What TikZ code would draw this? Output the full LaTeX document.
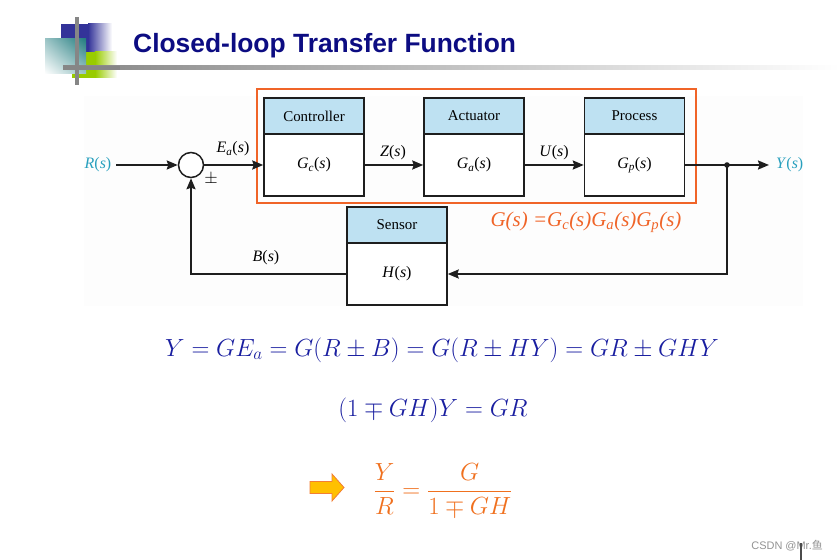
\documentclass[tikz,border=0pt]{standalone}
\usepackage{fontspec}
\setmainfont{Liberation Serif}
\newfontfamily\arialf{Liberation Sans}
\newfontfamily\cjkf{Noto Sans CJK SC}
\usepackage{amsmath}
\usetikzlibrary{arrows.meta,shadings}
\definecolor{titlec}{RGB}{12,12,130}
\definecolor{hdrc}{RGB}{190,225,242}
\definecolor{linec}{RGB}{30,30,30}
\definecolor{tealc}{RGB}{40,160,190}
\definecolor{orangec}{RGB}{240,100,40}
\definecolor{eqc}{RGB}{25,30,160}
\definecolor{fracc}{RGB}{240,112,30}
\definecolor{goldc}{RGB}{255,192,0}
\definecolor{sqblue}{RGB}{51,51,153}
\definecolor{sqteal}{RGB}{35,125,128}
\definecolor{sqgreen}{RGB}{153,204,0}
\newcommand\tfn[1]{{\itshape G\textsubscript{#1}}(\textit{s})}
\begin{document}
\begin{tikzpicture}[x=1bp,y=-1bp,
  hdrbox/.style={draw=linec, fill=hdrc, line width=1.5bp, minimum width=100bp, minimum height=36bp, inner sep=0pt, font=\fontsize{15}{18}\selectfont},
  bodybox/.style={draw=linec, fill=white, line width=1.5bp, minimum width=100bp, minimum height=62bp, inner sep=0pt, font=\fontsize{16}{18}\selectfont},
  sig/.style={font=\fontsize{16}{18}\selectfont, inner sep=1pt},
  arr/.style={draw=linec, line width=2bp, -{Stealth[length=11bp,width=9bp,inset=1.5bp]}},
  eq/.style={text=eqc, font=\fontsize{25}{30}\selectfont, inner sep=0pt}
]
\useasboundingbox (0,0) rectangle (840,560);
\fill[white] (0,0) rectangle (840,560);
\fill[gray!1.5] (84,96) rectangle (803,306);

% title decoration
\fill[sqblue] (61,24) rectangle (88,52);
\shade[left color=sqblue, right color=white] (88,24) rectangle (112,52);
\fill[sqgreen] (72,52) rectangle (95,78);
\shade[left color=sqgreen, right color=white] (95,52) rectangle (117,78);
\shade[upper right=sqteal, upper left=sqteal!45!white, lower right=sqteal!45!white, lower left=white] (45,39) rectangle (86,74);
\shade[left color=gray!95, right color=white] (63,65.7) rectangle (840,70);
\fill[gray!95] (63,65.7) rectangle (120,70);
\fill[gray!95] (75,17) rectangle (79,85);
\node[anchor=base west, text=titlec, font=\arialf\bfseries\fontsize{26.5}{30}\selectfont, inner sep=0pt] (title) at (133,53) {Closed-loop Transfer Function};

% orange frame
\draw[orangec, line width=1.6bp] (257,89) rectangle (696,203);

% blocks
\node[hdrbox] (ctrlh) at (314,116) {Controller};
\node[bodybox] (ctrl) at (314,165) {\tfn{c}};
\node[hdrbox] (acth) at (474,116) {Actuator};
\node[bodybox] (act) at (474,165) {\tfn{a}};
\node[hdrbox] (proch) at (634.5,116) {Process};
\node[bodybox] (proc) at (634.5,165) {\tfn{p}};
\node[hdrbox] (sensh) at (397,225) {Sensor};
\node[bodybox] (sens) at (397,274) {\textit{H}(\textit{s})};

% summing junction
\node[draw=linec, line width=1.5bp, fill=white, circle, minimum size=25bp, inner sep=0pt] (sum) at (191,165) {};

% signal labels
\node[sig, text=tealc] (Rlab) at (98,165) {\textit{R}(\textit{s})};
\node[sig, text=tealc, anchor=west] (Ylab) at (775,165) {\textit{Y}(\textit{s})};
\node[sig] (Ealab) at (233,149) {{\itshape E\textsubscript{a}}(\textit{s})};
\node[sig] (Zlab) at (393,153) {\textit{Z}(\textit{s})};
\node[sig] (Ulab) at (554,153) {\textit{U}(\textit{s})};
\node[sig] (Blab) at (266,258) {\textit{B}(\textit{s})};
\node[sig] (pm) at (211,179) {$\pm$};

% connectors
\draw[arr] ([xshift=4bp]Rlab.east) -- (sum.west);
\draw[arr] (sum.east) -- (ctrl.west);
\draw[arr] (ctrl.east) -- (act.west);
\draw[arr] (act.east) -- (proc.west);
\draw[arr] (proc.east) -- ([xshift=-6bp]Ylab.west);
\coordinate (tap) at (727,165);
\fill[linec] (tap) circle (2.8bp);
\draw[arr] (tap) |- (sens.east);
\draw[arr] (sens.west) -| (sum.south);

% G(s) formula
\node[text=orangec, font=\fontsize{21}{24}\selectfont\itshape, inner sep=0pt] (Gform) at (586,222)
  {G(s) =G\textsubscript{c}(s)G\textsubscript{a}(s)G\textsubscript{p}(s)};

% equations
\node[eq] (eq1) at (442,350) {$Y = GE_a = G(R \pm B) = G(R \pm HY) = GR \pm GHY$};
\node[eq] (eq2) at (433,410) {$(1 \mp GH)Y = GR$};
\node[eq, text=fracc, font=\fontsize{26}{30}\selectfont] (eq3) at (443,490) {$\dfrac{Y}{R} = \dfrac{G}{1 \mp GH}$};

% block arrow
\draw[fill=goldc, draw=fracc!90, line width=0.8bp] (310,481.5) -- (332,481.5) -- (332,474) -- (344,487.5) -- (332,501) -- (332,493.5) -- (310,493.5) -- cycle;

% watermark
\node[anchor=east, text=gray!85, font=\arialf\fontsize{11}{13}\selectfont, inner sep=0pt] (wm) at (823,546) {CSDN @Mr.{\cjkf 鱼}};
\draw[linec!80, line width=1.5bp] (801,543) -- (801,560);
\end{tikzpicture}
\end{document}
